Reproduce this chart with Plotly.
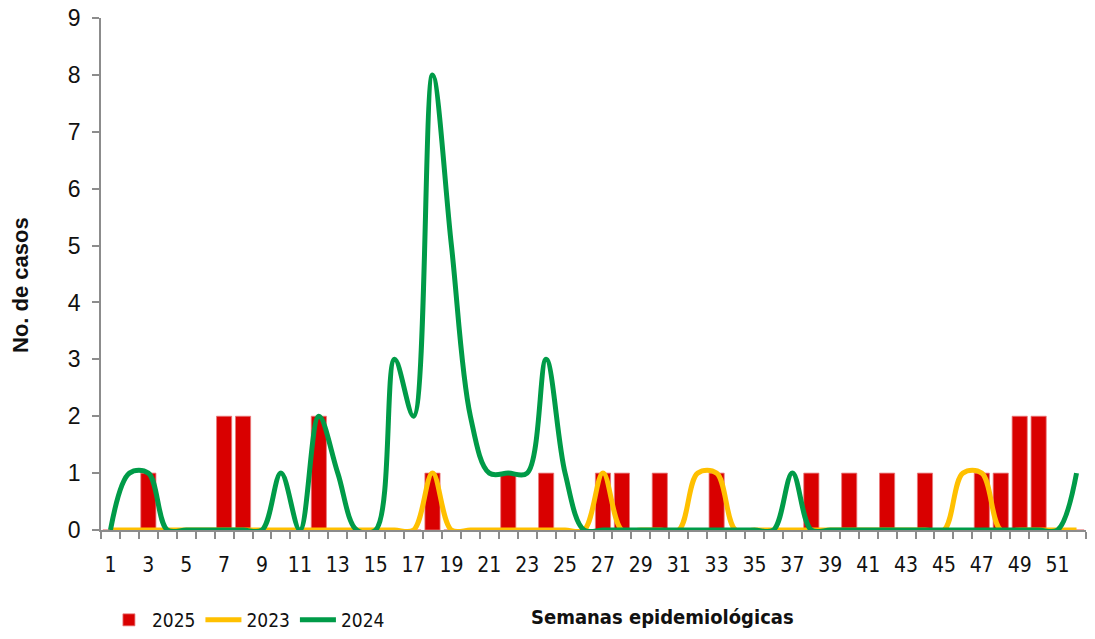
import plotly.graph_objects as go

weeks = list(range(1, 53))

cases_2025 = [0, 0, 1, 0, 0, 0, 2, 2, 0, 0, 0, 2, 0, 0, 0, 0, 0, 1, 0, 0,
              0, 1, 0, 1, 0, 0, 1, 1, 0, 1, 0, 0, 1, 0, 0, 0, 0, 1, 0, 1,
              0, 1, 0, 1, 0, 0, 1, 1, 2, 2, 0, 0]
cases_2023 = [0, 0, 0, 0, 0, 0, 0, 0, 0, 0, 0, 0, 0, 0, 0, 0, 0, 1, 0, 0,
              0, 0, 0, 0, 0, 0, 1, 0, 0, 0, 0, 1, 1, 0, 0, 0, 0, 0, 0, 0,
              0, 0, 0, 0, 0, 1, 1, 0, 0, 0, 0, 0]
cases_2024 = [0, 1, 1, 0, 0, 0, 0, 0, 0, 1, 0, 2, 1, 0, 0, 3, 2, 8, 5, 2,
              1, 1, 1, 3, 1, 0, 0, 0, 0, 0, 0, 0, 0, 0, 0, 0, 1, 0, 0, 0,
              0, 0, 0, 0, 0, 0, 0, 0, 0, 0, 0, 1]

tick_weeks = list(range(1, 53, 2))
tick_labels = [str(w) for w in tick_weeks]

NARROW = "DejaVu Sans Condensed, Liberation Sans Narrow, Arial Narrow, Liberation Sans, sans-serif"
REG = "Liberation Sans, Arial, sans-serif"
AXIS_GRAY = "#8c8c8c"

fig = go.Figure()
fig.add_trace(go.Bar(
    x=weeks, y=cases_2025, name="2025",
    marker=dict(color="#D90000", line=dict(color="#E8787A", width=0.8)),
    width=0.8,
))
fig.add_trace(go.Scatter(
    x=weeks, y=cases_2023, name="2023", mode="lines",
    line=dict(color="#FFC000", width=5, shape="spline", smoothing=1.0),
))
fig.add_trace(go.Scatter(
    x=weeks, y=cases_2024, name="2024", mode="lines",
    line=dict(color="#009B48", width=5, shape="spline", smoothing=1.0),
))

fig.update_layout(
    width=1095, height=639,
    margin=dict(l=101, r=9, t=18, b=109, autoexpand=False),
    paper_bgcolor="white", plot_bgcolor="white",
    showlegend=True,
    legend=dict(
        orientation="h", x=0.005, xanchor="left", y=(530 - 620) / 512, yanchor="middle",
        font=dict(family=NARROW, size=19, color="#111111"),
        itemwidth=36, tracegroupgap=0, bgcolor="rgba(0,0,0,0)",
    ),
    xaxis=dict(
        range=[0.5, 52.5], tickmode="array", tickvals=tick_weeks, ticktext=tick_labels,
        ticks="", showgrid=False, zeroline=False, automargin=False,
        showline=True, linecolor=AXIS_GRAY, linewidth=1.5,
        tickfont=dict(family=NARROW, size=21, color="#111111"),
        ticklabelstandoff=15,
        minor=dict(tickmode="linear", tick0=0.5, dtick=1, ticks="outside",
                   ticklen=7, tickcolor=AXIS_GRAY, tickwidth=1.5, showgrid=False),
    ),
    yaxis=dict(
        range=[0, 9], dtick=1, tick0=0, ticks="outside", ticklen=7,
        tickcolor=AXIS_GRAY, tickwidth=1.5, showgrid=False, zeroline=False,
        automargin=False, ticklabelstandoff=7, ticklabeloverflow="allow",
        showline=True, linecolor=AXIS_GRAY, linewidth=1.5,
        tickfont=dict(family=REG, size=23, color="#111111"),
    ),
    bargap=0.2,
    annotations=[
        dict(text="<b>Semanas epidemiológicas</b>", xref="paper", yref="paper",
             x=(662 - 101) / 985, y=(530 - 617) / 512, xanchor="center", yanchor="middle",
             showarrow=False, font=dict(family=NARROW, size=20, color="#111111")),
        dict(text="<b>No. de casos</b>", xref="paper", yref="paper", textangle=-90,
             x=(20 - 101) / 985, y=(530 - 285) / 512, xanchor="center", yanchor="middle",
             showarrow=False, font=dict(family=REG, size=22, color="#111111")),
    ],
)

# remove the default 8px page margin so the figure fills the window exactly
fig.write_html("out.html", config={"displayModeBar": False},
               post_script="document.body.style.margin='0px';")
